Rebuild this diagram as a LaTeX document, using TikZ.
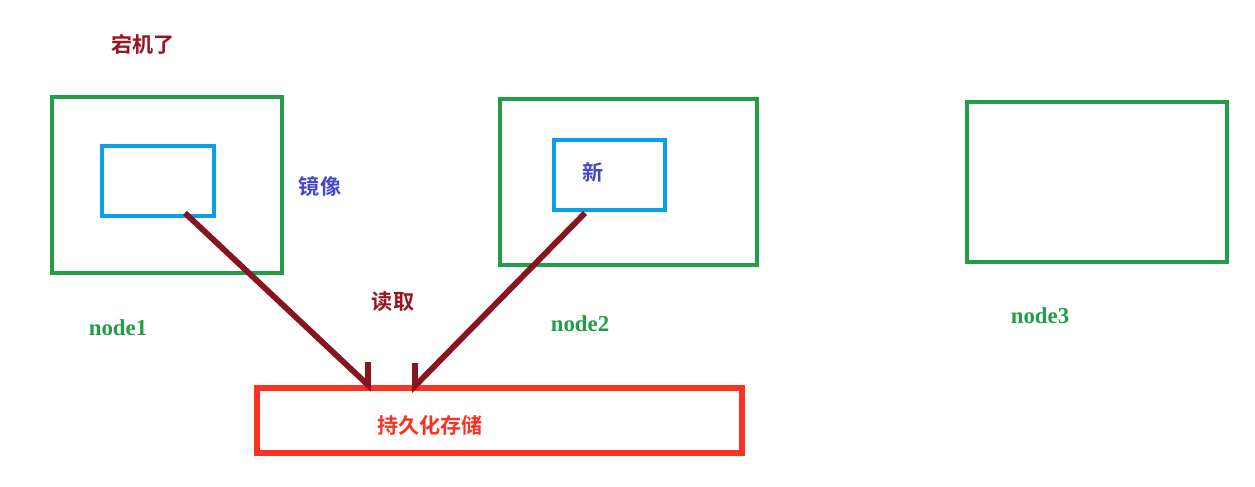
\documentclass[tikz,border=0pt]{standalone}
\usepackage{fontspec}
\setmainfont{Liberation Serif}
\newfontfamily\cjk{Noto Sans CJK SC}[BoldFont={Noto Sans CJK SC Bold}]
\newfontfamily\labelfont{Liberation Serif}
\usepackage{tikz}
\usetikzlibrary{positioning}
\definecolor{hostgreen}{RGB}{34,158,72}
\definecolor{imgblue}{RGB}{10,160,232}
\definecolor{storered}{RGB}{250,50,35}
\definecolor{arrowred}{RGB}{135,20,30}
\definecolor{textblue}{RGB}{70,70,200}
\definecolor{textred}{RGB}{150,20,35}

\tikzset{
    hostbox/.style={draw=hostgreen, line width=2.8pt, inner sep=0pt},
    imgbox/.style={draw=imgblue, line width=2.4pt, inner sep=0pt},
    storebox/.style={draw=storered, line width=3pt, inner sep=0pt},
    readline/.style={draw=arrowred, line width=3.3pt},
    hostlabel/.style={text=hostgreen, font=\labelfont\bfseries\fontsize{13}{14}\selectfont},
    cjklabel/.style={font=\cjk\bfseries\fontsize{12}{14}\selectfont}
}

\begin{document}
\begin{tikzpicture}[x=0.02cm, y=-0.02cm]
    \useasboundingbox [fill=white] (0, 0) rectangle (1255, 487);
    % Hosts
    \node [hostbox, minimum width=4.6cm, minimum height=3.52cm] (host1) at (167, 185) {};
    \node [hostbox, minimum width=5.14cm, minimum height=3.32cm] (host2) at (628.5, 182) {};
    \node [hostbox, minimum width=5.2cm, minimum height=3.2cm] (host3) at (1097, 182) {};
    % Images inside the hosts
    \node [imgbox, minimum width=2.24cm, minimum height=1.4cm] (img1) at (158, 181) {};
    \node [imgbox, minimum width=2.22cm, minimum height=1.4cm] (img2) at (609.5, 175) {};
    % Storage
    \node [storebox, minimum width=9.7cm, minimum height=1.3cm] (store) at (499.5, 420.5) {};
    % Labels
    \node [hostlabel] (name1) at (118, 328) {node1};
    \node [hostlabel] (name2) at (580, 324) {node2};
    \node [hostlabel] (name3) at (1040, 316) {node3};
    \node [cjklabel, text=textred] (down) at (143, 44) {宕机了};
    \node [cjklabel, text=textblue] (mirror) at (320, 186) {镜像};
    \node [cjklabel, text=textblue] (new) at (593, 172) {新};
    \node [cjklabel, text=textred] (read) at (393, 302) {读取};
    \node [cjklabel, text=storered] (storetext) at (430, 425) {持久化存储};
    % Read lines with their half heads
    \coordinate (from1) at (185, 213);
    \coordinate (from2) at (585, 213);
    \coordinate (to1) at (368, 385);
    \coordinate (to2) at (415, 386);
    \draw [readline] (from1) -- (to1) -- ++(0, -23);
    \draw [readline] (from2) -- (to2) -- ++(0, -23);
\end{tikzpicture}
\end{document}
